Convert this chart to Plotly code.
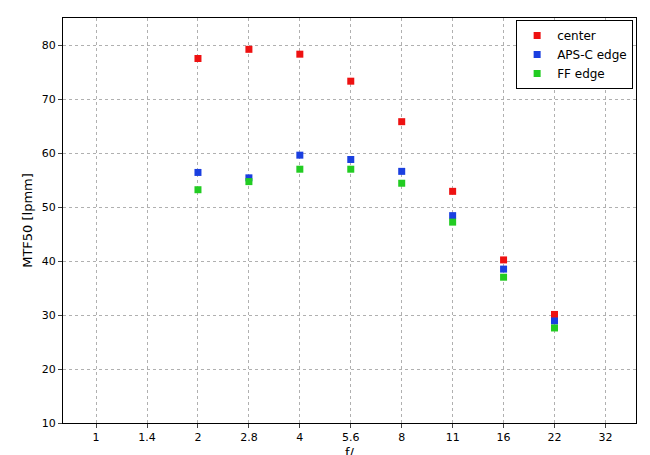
import plotly.graph_objects as go

apertures = ["1", "1.4", "2", "2.8", "4", "5.6", "8", "11", "16", "22", "32"]
data_ap = ["2", "2.8", "4", "5.6", "8", "11", "16", "22"]
center = [77.5, 79.2, 78.3, 73.3, 65.8, 52.9, 40.2, 30.1]
apsc = [56.4, 55.4, 59.6, 58.8, 56.6, 48.4, 38.5, 28.9]
ff = [53.2, 54.7, 57.0, 57.0, 54.4, 47.2, 37.0, 27.6]

xs = [apertures.index(a) for a in data_ap]
fig = go.Figure()
for name, vals, col in [("center", center, "#ee1111"), ("APS-C edge", apsc, "#1a3fe0"), ("FF edge", ff, "#22cc22")]:
    fig.add_trace(go.Scatter(x=xs, y=vals, mode="markers", name=name,
                             marker=dict(symbol="square", size=7, color=col)))
fig.update_layout(
    width=650, height=455, margin=dict(l=55, r=22, t=10, b=40, autoexpand=False),
    plot_bgcolor="white", paper_bgcolor="white",
    font=dict(family="DejaVu Sans", size=11, color="black"),
    legend=dict(x=0.995, y=0.995, xanchor="right", yanchor="top", bordercolor="black", borderwidth=1,
                font=dict(size=12), tracegroupgap=0, itemwidth=30),
    showlegend=True,
)
axis = dict(showline=True, linecolor="black", mirror=True, showgrid=True, gridcolor="#b0b0b0",
            griddash="dot", ticks="outside", ticklen=4, zeroline=False, automargin=False)
fig.update_xaxes(**axis, tickmode="array", tickvals=list(range(len(apertures))), ticktext=apertures,
                 range=[-0.65, 10.6], title=dict(text="f/", standoff=4))
fig.update_yaxes(**axis, range=[10, 85], dtick=10, title=dict(text="MTF50 [lpmm]", standoff=6))
fig.write_html("out.html")
